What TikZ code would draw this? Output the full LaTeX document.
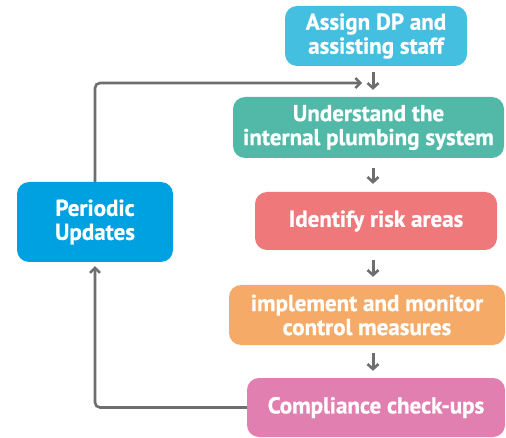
\documentclass[tikz,border=0pt]{standalone}
\usepackage{fontspec}
\setmainfont{PT Sans}[BoldFeatures={FakeBold=0.8}]
\usetikzlibrary{arrows.meta}
\definecolor{cA}{HTML}{45BFE0}
\definecolor{cB}{HTML}{52B9A8}
\definecolor{cC}{HTML}{EE787A}
\definecolor{cD}{HTML}{F5AB67}
\definecolor{cE}{HTML}{E17FB0}
\definecolor{cP}{HTML}{00A1E1}
\definecolor{ln}{HTML}{6E6E6E}
\tikzset{
  box/.style={rounded corners=12pt, inner sep=0pt, text=white, align=center,
    font=\fontsize{23}{24}\selectfont\bfseries},
  conn/.style={draw=ln, line width=2.6pt, rounded corners=5pt, -{Straight Barb[length=5pt,width=10pt,line width=2.4pt]}},
  dn/.style={draw=ln, line width=3pt, -{Straight Barb[length=5pt,width=11pt,line width=2.6pt]}},
}
\begin{document}
\begin{tikzpicture}[x=1pt,y=-1pt]
\useasboundingbox (0,0) rectangle (506,438);
\node[box, fill=cA, minimum width=182pt, minimum height=60pt] (b1) at (376,36) {Assign DP and\\assisting staff};
\node[box, fill=cB, minimum width=271pt, minimum height=61pt] (b2) at (368.5,127.5) {Understand the\\internal plumbing system};
\node[box, fill=cC, minimum width=242pt, minimum height=58pt] (b3) at (376,221) {Identify risk areas};
\node[box, fill=cD, minimum width=276pt, minimum height=60pt] (b4) at (367,315) {implement and monitor\\control measures};
\node[box, fill=cE, minimum width=258pt, minimum height=59pt] (b5) at (376,407.5) {Compliance check-ups};
\node[box, fill=cP, minimum width=156pt, minimum height=80pt] (pu) at (95,222) {Periodic\\Updates};
\coordinate (ax) at (373,0);
\coordinate (tip) at (362,83);
\draw[dn, shorten <=6pt, shorten >=7pt] (b1.south -| ax) -- (b2.north -| ax);
\draw[dn, shorten <=10pt, shorten >=8pt] (b2.south -| ax) -- (b3.north -| ax);
\draw[dn, shorten <=10pt, shorten >=8pt] (b3.south -| ax) -- (b4.north -| ax);
\draw[dn, shorten <=8pt, shorten >=7pt] (b4.south -| ax) -- (b5.north -| ax);
\draw[conn, shorten >=4pt] (b5.west) -| (pu.south);
\draw[conn] (pu.north) |- (tip);
\end{tikzpicture}
\end{document}
